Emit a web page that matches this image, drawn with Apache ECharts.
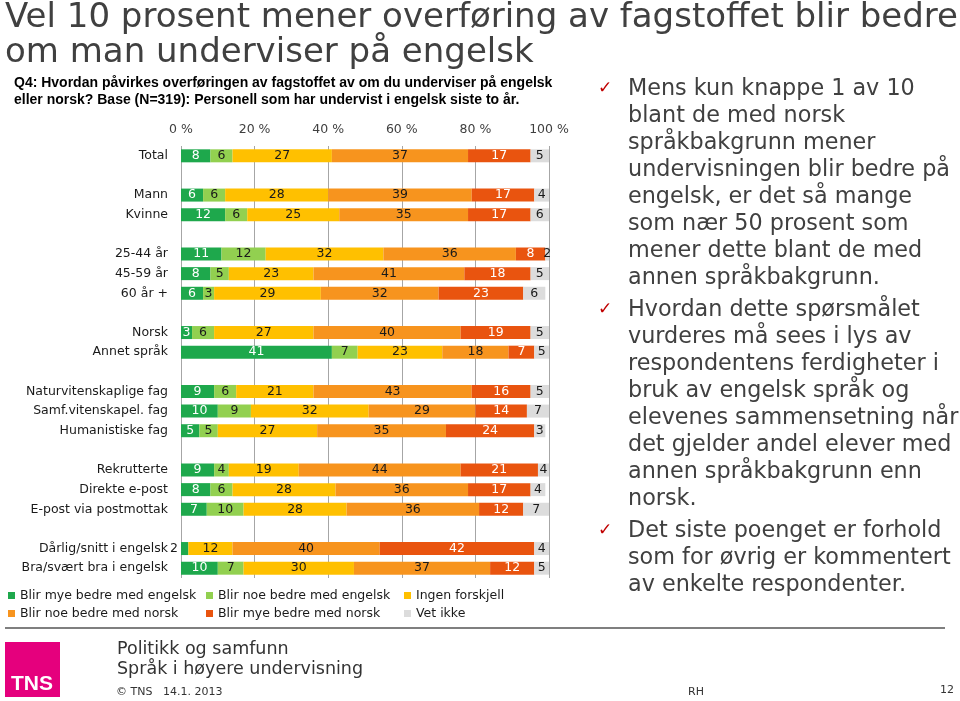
<!DOCTYPE html>
<html><head><meta charset="utf-8">
<script src="https://cdn.jsdelivr.net/npm/echarts@6/dist/echarts.min.js"></script>
<style>html,body{margin:0;padding:0;background:#fff}#c{width:960px;height:701px}</style>
</head><body><div id="c"></div>
<script>
const categories = ['Total',' ','Mann','Kvinne','  ','25-44 år','45-59 år','60 år +','   ','Norsk','Annet språk','    ',
  'Naturvitenskaplige fag','Samf.vitenskapel. fag','Humanistiske fag','     ','Rekrutterte','Direkte e-post','E-post via postmottak','      ',
  'Dårlig/snitt i engelsk','Bra/svært bra i engelsk'];
const seriesNames = ['Blir mye bedre med engelsk','Blir noe bedre med engelsk','Ingen forskjell','Blir noe bedre med norsk','Blir mye bedre med norsk','Vet ikke'];
const myeEngelsk = [8,'-',6,12,'-',11,8,6,'-',3,41,'-',9,10,5,'-',9,8,7,'-',2,10];
const noeEngelsk = [6,'-',6,6,'-',12,5,3,'-',6,7,'-',6,9,5,'-',4,6,10,'-',0,7];
const ingenForskjell = [27,'-',28,25,'-',32,23,29,'-',27,23,'-',21,32,27,'-',19,28,28,'-',12,30];
const noeNorsk = [37,'-',39,35,'-',36,41,32,'-',40,18,'-',43,29,35,'-',44,36,36,'-',40,37];
const myeNorsk = [17,'-',17,17,'-',8,18,23,'-',19,7,'-',16,14,24,'-',21,17,12,'-',42,12];
const vetIkke = [5,'-',4,6,'-',2,5,6,'-',5,5,'-',5,7,3,'-',4,4,7,'-',4,5];
const xTicks = [0,20,40,60,80,100];

const colors = ['#1ea84c','#92d050','#ffc000','#f7941e','#e9540f','#dcdcdc'];
const labelColors = ['#ffffff','#1a1a1a','#1a1a1a','#1a1a1a','#ffffff','#1a1a1a'];
const allData = [myeEngelsk,noeEngelsk,ingenForskjell,noeNorsk,myeNorsk,vetIkke];
const FONT = 'DejaVu Sans';

const series = allData.map((arr,si)=>({
  name: seriesNames[si], type:'bar', stack:'s', barWidth:13,
  itemStyle:{color:colors[si]},
  label:{show:true, position:'inside', color:labelColors[si], fontFamily:FONT, fontSize:12.5,
    formatter: p => (p.value===0||p.value==='-') ? '' : p.value},
  data: arr.map(v => (si===0 && typeof v==='number' && v<=2 && v>0) ?
     {value:v, label:{position:'left', distance:3, color:'#1a1a1a'}} : v),
  clip:true
}));

const legendPos = [[8,589],[206,589],[404,589],[8,607],[206,607],[404,607]];
const legends = seriesNames.map((n,i)=>({
  data:[n], left:legendPos[i][0], top:legendPos[i][1], icon:'rect', itemWidth:7, itemHeight:7,
  itemGap:0, padding:0, selectedMode:false,
  textStyle:{fontFamily:FONT, fontSize:12.5, color:'#1a1a1a', padding:[0,0,0,0]}
}));

const rightLines = [
 ['Mens kun knappe 1 av 10','blant de med norsk','språkbakgrunn mener','undervisningen blir bedre på','engelsk, er det så mange','som nær 50 prosent som','mener dette blant de med','annen språkbakgrunn.'],
 ['Hvordan dette spørsmålet','vurderes må sees i lys av','respondentens ferdigheter i','bruk av engelsk språk og','elevenes sammensetning når','det gjelder andel elever med','annen språkbakgrunn enn','norsk.'],
 ['Det siste poenget er forhold','som for øvrig er kommentert','av enkelte respondenter.']
];
const bulletTops = [76, 297, 518];
const graphics = [];
rightLines.forEach((lines,i)=>{
  graphics.push({type:'text', left:598, top:bulletTops[i]+4, style:{text:'✓', fill:'#c00000', font:'17px '+FONT}});
  graphics.push({type:'text', left:628, top:bulletTops[i], style:{text:lines.join('\n'), fill:'#404040', font:'22.3px '+FONT, lineHeight:26.9}});
});
graphics.push(
 {type:'text', left:5, top:1, style:{text:'Vel 10 prosent mener overføring av fagstoffet blir bedre\nom man underviser på engelsk', fill:'#404040', font:'34px '+FONT, lineHeight:35}},
 {type:'text', left:14, top:75, style:{text:'Q4: Hvordan påvirkes overføringen av fagstoffet av om du underviser på engelsk\neller norsk? Base (N=319): Personell som har undervist i engelsk siste to år.', fill:'#000', font:'bold 14px "Liberation Sans"', lineHeight:17}},
 {type:'line', shape:{x1:5,y1:628,x2:945,y2:628}, style:{stroke:'#7f7f7f', lineWidth:2}},
 {type:'rect', shape:{x:5,y:642,width:55,height:55}, style:{fill:'#e5007d'}},
 {type:'text', left:11, top:674, style:{text:'TNS', fill:'#fff', font:'bold 21px "Liberation Sans Narrow", "Liberation Sans"'}},
 {type:'text', left:117, top:639, style:{text:'Politikk og samfunn\nSpråk i høyere undervisning', fill:'#333', font:'17.5px '+FONT, lineHeight:20.5}},
 {type:'text', left:116, top:687, style:{text:'© TNS   14.1. 2013', fill:'#333', font:'11px '+FONT}},
 {type:'text', left:688, top:687, style:{text:'RH', fill:'#333', font:'11px '+FONT}},
 {type:'text', left:940, top:685, style:{text:'12', fill:'#333', font:'11px '+FONT}}
);

const chart = echarts.init(document.getElementById('c'), null, {renderer:'canvas'});
chart.setOption({
  animation:false,
  textStyle:{fontFamily:FONT},
  grid:{left:181, width:368, top:146, height:432, containLabel:false},
  xAxis:{type:'value', position:'top', min:0, max:100, interval:20,
    axisLine:{show:false}, axisTick:{show:false},
    splitLine:{show:true, lineStyle:{color:'#a6a6a6', width:1}},
    axisLabel:{formatter: v => xTicks.includes(v) ? v+' %' : '', color:'#404040', fontFamily:FONT, fontSize:12.5, margin:10}},
  yAxis:{type:'category', inverse:true, data:categories,
    axisLine:{show:false}, axisTick:{show:false}, splitLine:{show:false},
    axisLabel:{color:'#1a1a1a', fontFamily:FONT, fontSize:12.5, margin:13}},
  legend: legends,
  series: series,
  graphic: graphics
});
</script></body></html>
